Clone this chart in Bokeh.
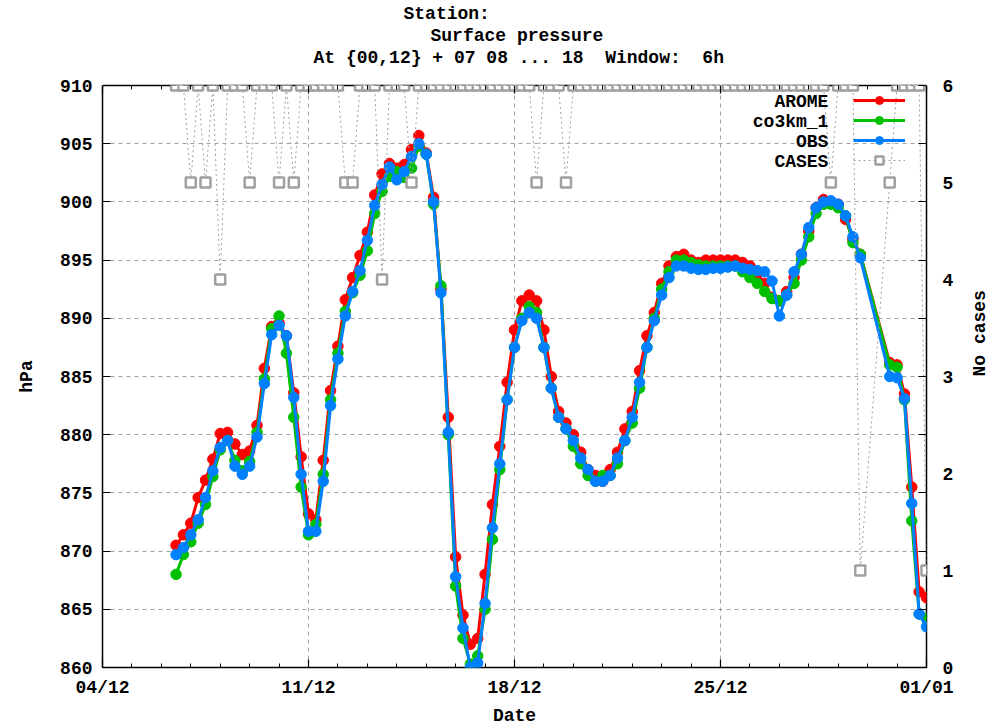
import math
import pandas as pd
from bokeh.plotting import figure
from bokeh.models import (Range1d, LinearAxis, DatetimeAxis, FixedTicker, DatetimeTickFormatter,
                          Title, Label, Legend, LegendItem)
from bokeh.embed import file_html
from bokeh.resources import INLINE

# ---------------- data (6-hourly, 06/12 12UTC .. 01/01 00UTC) ----------------
start_time = "2012-12-06 12:00"
n_steps = 103

arome = [870.5, 871.4, 872.4, 874.6, 876.1, 877.9, 880.1, 880.2, 879.2, 878.3,
         878.6, 880.8, 885.7, 889.3, 889.6, 888.5, 883.6, 878.1, 873.2, 872.7,
         877.8, 883.8, 887.6, 891.6, 893.5, 895.4, 897.4, 900.6, 902.4, 903.3,
         902.9, 903.2, 904.5, 905.7, 904.2, 900.4, 892.5, 881.5, 869.5, 864.5,
         862.0, 862.5, 868.0, 874.0, 879.0, 884.5, 889.0, 891.5, 892.0, 891.5,
         889.0, 885.0, 882.0, 881.0, 880.0, 878.5, 877.0, 876.5, 876.0, 877.0,
         878.5, 880.5, 882.0, 885.5, 888.5, 890.5, 893.0, 894.5, 895.3, 895.5,
         895.0, 894.8, 895.0, 895.0, 895.0, 895.0, 895.0, 894.8, 894.5, 893.8,
         893.0, 891.8, 891.5, 892.3, 893.5, 895.5, 897.5, 899.5, 900.2, 900.0,
         899.8, 898.5, 896.8, 895.5, None, None, None, 886.2, 886.0, 883.5,
         875.5, 866.5, 866.0]

co3km_1 = [868.0, 869.7, 870.8, 872.4, 874.0, 876.4, 878.7, 879.5, 877.8, 876.9,
           877.7, 880.2, 884.8, 889.1, 890.2, 887.0, 881.5, 875.5, 871.4, 872.3,
           876.6, 883.0, 887.0, 890.6, 892.2, 893.7, 895.8, 899.0, 900.9, 902.2,
           902.6, 902.1, 902.9, 904.8, 904.1, 899.8, 892.8, 880.0, 867.0, 862.5,
           860.3, 861.0, 865.0, 871.0, 877.0, 883.0, 887.5, 890.0, 891.0, 890.5,
           887.5, 884.0, 881.5, 880.5, 879.0, 877.5, 876.5, 876.0, 876.5, 876.5,
           877.5, 879.5, 881.0, 884.0, 887.5, 890.0, 892.5, 894.0, 895.0, 895.0,
           894.8, 894.6, 894.5, 894.5, 894.5, 894.5, 894.5, 894.0, 893.5, 893.0,
           892.3, 891.7, 891.5, 892.0, 893.0, 895.0, 897.0, 899.0, 899.8, 899.8,
           899.5, 898.8, 896.5, 895.5, None, None, None, 886.0, 885.8, 883.0,
           872.6, 864.6, 864.2]

obs = [869.7, 870.3, 871.4, 872.7, 874.6, 876.9, 878.9, 879.5, 877.3, 876.6,
       877.3, 879.8, 884.4, 888.6, 889.4, 888.5, 883.2, 876.6, 871.7, 871.7,
       876.0, 882.5, 886.5, 890.2, 892.3, 894.1, 896.7, 899.7, 901.5, 903.0,
       901.9, 902.6, 903.9, 905.0, 904.1, 900.0, 892.2, 880.2, 867.8, 863.4,
       860.0, 860.4, 865.5, 872.0, 877.5, 883.0, 887.5, 889.8, 890.5, 890.0,
       887.5, 884.0, 881.5, 880.5, 879.5, 878.0, 877.0, 876.0, 876.0, 876.5,
       878.0, 879.5, 881.5, 884.5, 887.5, 889.8, 892.0, 893.5, 894.5, 894.5,
       894.3, 894.2, 894.2, 894.3, 894.3, 894.4, 894.5, 894.3, 894.2, 894.1,
       894.0, 893.2, 890.2, 892.0, 894.0, 895.5, 897.8, 899.5, 900.0, 900.1,
       899.8, 898.8, 897.0, 895.2, None, None, None, 885.0, 884.9, 883.1,
       874.1, 864.6, 863.5]

cases = [6, 6, 5, 6, 5, 6, 4, 6, 6, 6,
         5, 6, 6, 6, 5, 6, 5, 6, 6, 6,
         6, 6, 6, 5, 5, 6, 6, 6, 4, 6,
         6, 6, 5, 6, 6, 6, 6, 6, 6, 6,
         6, 6, 6, 6, 6, 6, 6, 6, 6, 5,
         6, 6, 6, 5, 6, 6, 6, 6, 6, 6,
         6, 6, 6, 6, 6, 6, 6, 6, 6, 6,
         6, 6, 6, 6, 6, 6, 6, 6, 6, 6,
         6, 6, 6, 6, 6, 6, 6, 6, 6, 5,
         6, 6, 6, 1, None, None, None, 5, 6, 6,
         6, 6, 1]

major_tick_dates = ["2012-12-04", "2012-12-11", "2012-12-18", "2012-12-25", "2013-01-01"]
hpa_ticks = [860, 865, 870, 875, 880, 885, 890, 895, 900, 905, 910]
case_ticks = [0, 1, 2, 3, 4, 5, 6]

series_names = ["AROME", "co3km_1", "OBS", "CASES"]
title_lines = ["Station:", "Surface pressure",
               "At {00,12} + 07 08 ... 18\u00a0 Window:\u00a0 6h"]

# ---------------- build ----------------
times_all = pd.date_range(start_time, periods=n_steps, freq="6h")
keep = [i for i in range(n_steps) if obs[i] is not None]
t = [times_all[i].to_pydatetime() for i in keep]
a = [arome[i] for i in keep]
c = [co3km_1[i] for i in keep]
o = [obs[i] for i in keep]
k = [cases[i] for i in keep]


def to_ms(d):
    return pd.Timestamp(d).value / 1e6


major_ms = [to_ms(d) for d in major_tick_dates]
minor_ms = [to_ms(d) for d in pd.date_range(major_tick_dates[0], major_tick_dates[-1], freq="D")]

FONT = "Liberation Mono"
FS = "18px"
GRAY = "#a0a0a0"

p = figure(width=1005, height=728, x_axis_type="datetime",
           x_range=Range1d(pd.Timestamp(major_tick_dates[0]).to_pydatetime(),
                           pd.Timestamp(major_tick_dates[-1]).to_pydatetime()),
           y_range=Range1d(860, 910),
           output_backend="svg", toolbar_location=None,
           min_border_left=102, min_border_right=79, min_border_top=85, min_border_bottom=59)
p.extra_y_ranges = {"cases": Range1d(0, 6)}
p.outline_line_color = "black"
p.outline_line_width = 1.5
p.background_fill_color = "white"
p.border_fill_color = "white"

xticker = FixedTicker(ticks=major_ms, minor_ticks=minor_ms)
fmt = DatetimeTickFormatter(milliseconds="%d/%m", seconds="%d/%m", minsec="%d/%m", minutes="%d/%m",
                            hourmin="%d/%m", hours="%d/%m", days="%d/%m", months="%d/%m", years="%d/%m")


def style_axis(ax):
    ax.axis_line_color = None
    ax.major_tick_out = 0
    ax.major_tick_in = 8
    ax.minor_tick_out = 0
    ax.minor_tick_in = 4
    ax.major_tick_line_color = "black"
    ax.minor_tick_line_color = "black"
    ax.major_tick_line_width = 1.2
    ax.major_label_text_font = FONT
    ax.major_label_text_font_size = FS
    ax.major_label_text_font_style = "bold"
    ax.major_label_text_color = "black"
    ax.axis_label_text_font = FONT
    ax.axis_label_text_font_size = FS
    ax.axis_label_text_font_style = "bold"
    ax.axis_label_text_color = "black"


xa = p.xaxis[0]
xa.ticker = xticker
xa.formatter = fmt
xa.axis_label = "Date"
style_axis(xa)
xa.major_label_standoff = 10
xa.axis_label_standoff = 5

ya = p.yaxis[0]
ya.ticker = FixedTicker(ticks=hpa_ticks)
ya.axis_label = "hPa"
style_axis(ya)
ya.minor_tick_in = 0
ya.major_label_standoff = 10
ya.axis_label_standoff = 20

# mirrored ticks on top (no labels)
top = DatetimeAxis(ticker=xticker, formatter=fmt)
style_axis(top)
top.major_label_overrides = {m: "" for m in major_ms}
top.major_label_standoff = 0
p.add_layout(top, "above")

# invisible spacer between the frame and the title block
spacer = DatetimeAxis(ticker=xticker, formatter=fmt)
style_axis(spacer)
spacer.major_tick_in = 0
spacer.major_tick_out = 18
spacer.minor_tick_in = 0
spacer.major_tick_line_color = "white"
spacer.minor_tick_line_color = None
spacer.major_label_overrides = {m: "" for m in major_ms}
spacer.major_label_standoff = 0
p.add_layout(spacer, "above")

# mirrored ticks on the right (no labels)
rmirror = LinearAxis(ticker=FixedTicker(ticks=hpa_ticks))
style_axis(rmirror)
rmirror.minor_tick_in = 0
rmirror.major_label_overrides = {v: "" for v in hpa_ticks}
rmirror.major_label_standoff = 0
p.add_layout(rmirror, "right")

ra = LinearAxis(y_range_name="cases", ticker=FixedTicker(ticks=case_ticks), axis_label="No cases")
style_axis(ra)
ra.major_tick_in = 0
ra.minor_tick_in = 0
ra.major_label_standoff = 16
ra.axis_label_standoff = 24
ra.axis_label_orientation = math.pi / 2
p.add_layout(ra, "right")

for g in (p.xgrid[0], p.ygrid[0]):
    g.grid_line_color = GRAY
    g.grid_line_dash = "4 4"
    g.grid_line_width = 1
p.xgrid[0].ticker = xticker
p.ygrid[0].ticker = FixedTicker(ticks=hpa_ticks)

# titles (added from the frame outwards)
for txt, off in [(title_lines[2], 211), (title_lines[1], 328), (title_lines[0], 301)]:
    p.add_layout(Title(text=txt, align="left", offset=off, text_font=FONT, text_font_size=FS,
                       text_font_style="bold", text_color="black", standoff=0), "above")

# series
colors = ["#ff0000", "#00c000", "#0080ff"]
items = []
for vals, col in zip([a, c, o], colors):
    rl = p.line(t, vals, line_color=col, line_width=3)
    rs = p.scatter(t, vals, marker="circle", size=10.5, fill_color=col, line_color=col)
    items.append(LegendItem(label=" ", renderers=[rl, rs]))

cl = p.line(t, k, y_range_name="cases", line_color=GRAY, line_width=1, line_dash="2 3")
cs = p.scatter(t, k, y_range_name="cases", marker="square", size=10, line_color=GRAY,
               line_width=2.5, fill_color="white")
items.append(LegendItem(label=" ", renderers=[cl, cs]))

leg = Legend(items=items, location=(751, 497), glyph_width=52, glyph_height=20,
             label_width=0, label_height=20, label_standoff=0, spacing=0, padding=0, margin=0,
             border_line_alpha=0, background_fill_alpha=0, label_text_font_size="2px")
p.add_layout(leg)

# legend texts (right-aligned, left of the samples)
legend_text_x = to_ms("2012-12-28 16:00")
legend_text_y = [908.55, 906.85, 905.15, 903.45]
for name, yy in zip(series_names, legend_text_y):
    p.add_layout(Label(x=legend_text_x, y=yy, text=name, text_align="right", text_baseline="middle",
                       text_font=FONT, text_font_size=FS, text_font_style="bold", text_color="black"))

open("out.html", "w").write(file_html(p, INLINE))
